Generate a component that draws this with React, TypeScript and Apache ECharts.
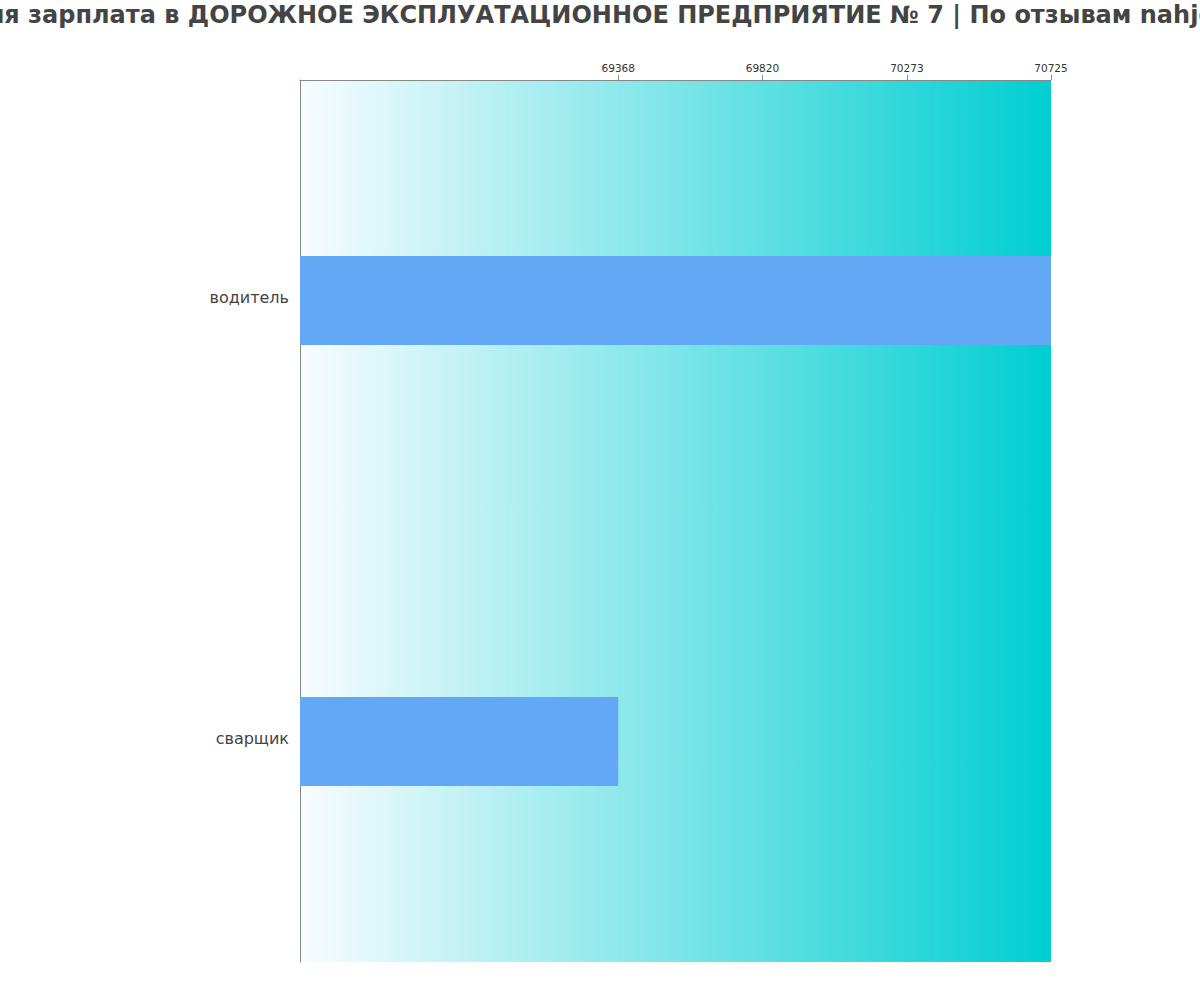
import { useEffect, useRef } from 'react';
import * as echarts from 'echarts';

const titleText =
  'Средняя зарплата в ДОРОЖНОЕ ЭКСПЛУАТАЦИОННОЕ ПРЕДПРИЯТИЕ № 7 | По отзывам nahjob.ru';
const professions = ['водитель', 'сварщик'];
const salaries = [70725, 69368];
const tickValues = [69368, 69820, 70273, 70725];
const axisMin = 68370;
const axisMax = 70725;

export default function App() {
  const chartRef = useRef<HTMLDivElement>(null);

  useEffect(() => {
    if (!chartRef.current) return;
    const chart = echarts.init(chartRef.current, undefined, { renderer: 'svg' });

    const option: echarts.EChartsOption = {
      animation: false,
      backgroundColor: '#ffffff',
      // title is wider than the page, placed by hand so it is cut at both edges
      graphic: [
        {
          type: 'text',
          x: 586,
          y: 15,
          style: {
            text: titleText,
            align: 'center',
            verticalAlign: 'middle',
            fontFamily: 'DejaVu Sans',
            fontSize: 24,
            fontWeight: 'bold',
            fill: '#444444',
          },
        },
      ],
      grid: {
        left: 300,
        right: 149,
        top: 80,
        bottom: 38,
        show: true,
        borderWidth: 0,
        backgroundColor: new echarts.graphic.LinearGradient(0, 0, 1, 0, [
          { offset: 0, color: '#f8fcff' },
          { offset: 1, color: '#00ced1' },
        ]),
      },
      xAxis: {
        type: 'value',
        position: 'top',
        min: axisMin,
        max: axisMax,
        axisLine: { show: true, lineStyle: { color: '#888888', width: 1 } },
        axisTick: {
          show: true,
          length: 5,
          customValues: tickValues,
          lineStyle: { color: '#888888' },
        },
        axisLabel: {
          customValues: tickValues,
          formatter: (v: number) => String(v),
          fontFamily: 'DejaVu Sans',
          fontSize: 10.5,
          color: '#333333',
          margin: 7,
        },
        splitLine: { show: false },
      },
      yAxis: {
        type: 'category',
        data: professions,
        inverse: true,
        axisLine: { show: true, lineStyle: { color: '#888888', width: 1 } },
        axisTick: { show: false },
        axisLabel: {
          formatter: (v: string) => `{l|${v}}`,
          margin: 11,
          rich: {
            l: {
              fontFamily: 'DejaVu Sans',
              fontSize: 16,
              color: '#444444',
              padding: [0, 0, 7, 0],
            },
          },
        },
      },
      series: [
        {
          type: 'bar',
          data: salaries,
          barWidth: 89,
          itemStyle: { color: '#62a8f4' },
        },
      ],
    };

    chart.setOption(option);
    return () => chart.dispose();
  }, []);

  return (
    <div
      ref={chartRef}
      style={{ position: 'fixed', left: 0, top: 0, width: 1200, height: 1000 }}
    />
  );
}
